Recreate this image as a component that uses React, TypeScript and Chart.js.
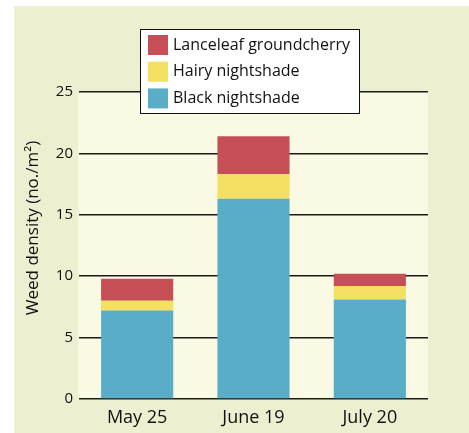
import React, { useEffect, useRef } from "react";
import { Chart, registerables } from "chart.js";

Chart.register(...registerables);

const categories = ["May 25", "June 19", "July 20"];
const blackNightshade = [7.2, 16.3, 8.1];
const hairyNightshade = [0.8, 2.0, 1.1];
const lanceleafGroundcherry = [1.8, 3.1, 1.0];
const yTicks = [0, 5, 10, 15, 20, 25];
const yTitle = "Weed density (no./m²)";

const FONT = "'Open Sans', 'Noto Sans', sans-serif";
const COLORS = { red: "#C64F55", yellow: "#F3DF62", blue: "#5AADC6" };

const bgPlugin = {
  id: "bgPlugin",
  beforeDraw(chart: any) {
    const { ctx, chartArea, width, height } = chart;
    ctx.save();
    ctx.fillStyle = "#ffffff";
    ctx.fillRect(0, 0, width, height);
    ctx.fillStyle = "#EDF0D0";
    ctx.fillRect(14, 6, width - 14, height - 6);
    ctx.fillStyle = "#FAF9E3";
    ctx.fillRect(chartArea.left - 1, chartArea.top, chartArea.right - chartArea.left + 1, chartArea.bottom - chartArea.top);
    ctx.restore();
  },
  afterDraw(chart: any) {
    const { ctx, chartArea } = chart;
    ctx.save();
    // y-axis title
    ctx.translate(33, 228);
    ctx.rotate(-Math.PI / 2);
    ctx.font = `17px ${FONT}`;
    ctx.fillStyle = "#111";
    ctx.textAlign = "center";
    ctx.textBaseline = "middle";
    ctx.fillText(yTitle, 0, 0);
    ctx.restore();

    // legend
    ctx.save();
    const bx = 140.5, by = 29.5, bw = 219, bh = 84;
    ctx.fillStyle = "#ffffff";
    ctx.fillRect(bx, by, bw, bh);
    ctx.strokeStyle = "#111";
    ctx.lineWidth = 1;
    ctx.strokeRect(bx, by, bw, bh);
    const ds = [...chart.data.datasets].reverse();
    ctx.font = `16px ${FONT}`;
    ctx.textAlign = "left";
    ctx.textBaseline = "middle";
    ds.forEach((d: any, i: number) => {
      const top = 35 + i * 26.7;
      ctx.fillStyle = d.backgroundColor;
      ctx.fillRect(148, top, 20, 20);
      ctx.fillStyle = "#111";
      ctx.fillText(d.label, 173, top + 10);
    });
    ctx.restore();
  },
};

export default function App() {
  const ref = useRef<HTMLCanvasElement>(null);
  useEffect(() => {
    if (!ref.current) return;
    const chart = new Chart(ref.current, {
      type: "bar",
      data: {
        labels: categories,
        datasets: [
          { label: "Black nightshade", data: blackNightshade, backgroundColor: COLORS.blue },
          { label: "Hairy nightshade", data: hairyNightshade, backgroundColor: COLORS.yellow },
          { label: "Lanceleaf groundcherry", data: lanceleafGroundcherry, backgroundColor: COLORS.red },
        ],
      },
      options: {
        animation: false,
        responsive: false,
        devicePixelRatio: 1,
        layout: { padding: { left: 0, right: 41, top: 92, bottom: 0 } },
        datasets: { bar: { categoryPercentage: 1, barPercentage: 0.62 } },
        plugins: { legend: { display: false }, tooltip: { enabled: false }, title: { display: false } },
        scales: {
          x: {
            stacked: true,
            grid: { display: false, drawTicks: false },
            border: { display: false },
            ticks: { color: "#111", font: { family: FONT, size: 18 }, padding: 8 },
            afterFit(scale: any) { scale.height = 34; },
          },
          y: {
            stacked: true,
            min: 0,
            max: 25,
            afterBuildTicks(scale: any) { scale.ticks = yTicks.map((v) => ({ value: v })); },
            grid: { color: "#1a1a1a", lineWidth: 1.5, drawTicks: false },
            border: { display: false },
            ticks: { color: "#111", font: { family: FONT, size: 15 }, padding: 6 },
            afterFit(scale: any) { scale.width = 79; },
          },
        },
      },
      plugins: [bgPlugin],
    });
    return () => chart.destroy();
  }, []);
  return (
    <div style={{ position: "absolute", left: 0, top: 0, width: 469, height: 433 }}>
      <canvas ref={ref} width={469} height={433} style={{ display: "block" }} />
    </div>
  );
}
